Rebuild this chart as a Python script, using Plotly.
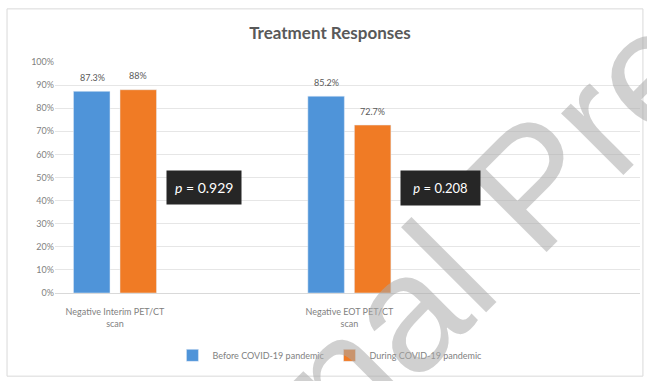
import plotly.graph_objects as go

categories = ["Negative Interim PET/CT<br>scan", "Negative EOT PET/CT<br>scan"]
before_vals = [87.3, 85.2]
during_vals = [88.0, 72.7]
before_labels = ["87.3%", "85.2%"]
during_labels = ["88%", "72.7%"]
series_names = ["Before COVID-19 pandemic", "During COVID-19 pandemic"]
p_values = ["0.929", "0.208"]
y_ticks = [0, 10, 20, 30, 40, 50, 60, 70, 80, 90, 100]

BLUE = "#4F94D9"
ORANGE = "#F07B25"
GRAY = "#7F7F7F"
FONT = "Lato, 'Liberation Sans', Arial, sans-serif"
WM = "rgba(170,170,170,0.55)"

fig = go.Figure()
fig.add_trace(go.Bar(x=categories, y=before_vals, name=series_names[0], marker_color=BLUE))
fig.add_trace(go.Bar(x=categories, y=during_vals, name=series_names[1], marker_color=ORANGE))

# data labels
for cat, val, lab in zip(categories, before_vals, before_labels):
    fig.add_annotation(x=cat, y=val, text=lab, showarrow=False, xshift=-23, yshift=14,
                       font=dict(size=9, color="#595959", family=FONT))
for cat, val, lab in zip(categories, during_vals, during_labels):
    fig.add_annotation(x=cat, y=val, text=lab, showarrow=False, xshift=23, yshift=14,
                       font=dict(size=9, color="#595959", family=FONT))

fig.update_layout(
    width=647, height=381,
    margin=dict(l=55, r=7, t=62, b=88),
    paper_bgcolor="white", plot_bgcolor="white",
    barmode="group", bargap=0.603, bargroupgap=0.215,
    font=dict(family=FONT, color=GRAY, size=9),
    title=dict(text="<b>Treatment Responses</b>", x=0.51, xanchor="center",
               y=0.913, yanchor="middle",
               font=dict(size=17, color="#595959", family=FONT)),
    showlegend=True,
    legend=dict(orientation="h", x=0.47, xanchor="center", y=-0.27, yanchor="middle",
                font=dict(size=9, color=GRAY, family=FONT), itemwidth=30,
                traceorder="normal"),
    xaxis=dict(type="category", range=[-0.256, 2.24], showgrid=False,
               showline=True, linecolor="#D9D9D9", ticks="", ticklabelstandoff=10,
               tickfont=dict(size=9, color=GRAY, family=FONT)),
    yaxis=dict(range=[0, 100], tickvals=y_ticks,
               ticktext=[f"{v}%" for v in y_ticks],
               showgrid=True, gridcolor="#E6E6E6", zeroline=False,
               tickfont=dict(size=9, color=GRAY, family=FONT), ticks="", ticklen=0),
)

# journal watermark
fig.add_annotation(x=0.817, y=0.468, xref="paper", yref="paper",
                   xanchor="center", yanchor="middle",
                   text="Journal Pre-proof", showarrow=False, textangle=-45,
                   font=dict(size=166, color=WM,
                             family="'Liberation Sans', Arial, sans-serif"))

# p-value boxes
fig.add_annotation(x=0.38, y=45.5, xref="x", yref="y",
                   text=f"<i>p</i> = {p_values[0]}", showarrow=False,
                   bgcolor="#262626", borderpad=8,
                   font=dict(size=14, color="white", family=FONT))
fig.add_annotation(x=1.39, y=45.5, xref="x", yref="y",
                   text=f"&nbsp;<i>p</i> = {p_values[1]}&nbsp;", showarrow=False,
                   bgcolor="#262626", borderpad=9,
                   font=dict(size=13, color="white", family=FONT))

# outer chart frame
fig.add_shape(type="rect", xref="paper", yref="paper",
              x0=-0.082, x1=1.005, y0=-0.36, y1=1.23,
              line=dict(color="#D9D9D9", width=1), layer="below")

fig.write_html("out.html")
